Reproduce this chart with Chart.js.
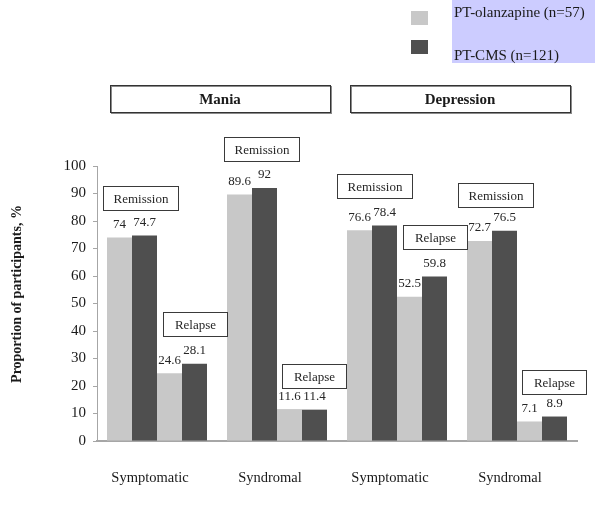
<!DOCTYPE html>
<html><head><meta charset="utf-8">
<script src="https://cdn.jsdelivr.net/npm/chart.js@4"></script>
<style>html,body{margin:0;padding:0;background:#fff}#wrap{width:600px;height:508px;position:relative}</style>
</head><body><div id="wrap"><canvas id="c" width="600" height="508"></canvas></div>
<script>
// ---------- data ----------
const categories = ['Symptomatic', 'Syndromal', 'Symptomatic', 'Syndromal'];
const phaseGroups = ['Mania', 'Depression'];
const seriesNames = ['PT-olanzapine (n=57)', 'PT-CMS (n=121)'];
const outcomeLabels = ['Remission', 'Relapse'];
const remissionOlanzapine = [74, 89.6, 76.6, 72.7];
const remissionCMS = [74.7, 92, 78.4, 76.5];
const relapseOlanzapine = [24.6, 11.6, 52.5, 7.1];
const relapseCMS = [28.1, 11.4, 59.8, 8.9];
const yTicks = [0, 10, 20, 30, 40, 50, 60, 70, 80, 90, 100];
const yTitle = 'Proportion of participants, %';

// ---------- style / layout ----------
const LIGHT = '#c8c8c8';
const DARK = '#4f4f4f';
const SERIF = '"Liberation Serif", "Times New Roman", serif';
const AXIS = '#a6a6a6';
// annotation box horizontal offset from pair centre, and gap above the taller bar
const boxDx = [[8.5, 12.5], [9, 11.5], [2.5, 12.5], [3, 11.5]];
const boxGap = [[26, 28], [27, 21], [27, 28], [24, 23]];
const boxW = [75, 64];
const boxH = 24;

const overlay = {
  id: 'overlay',
  afterDatasetsDraw(chart) {
    const ctx = chart.ctx;
    ctx.save();
    ctx.fillStyle = '#262626';
    ctx.font = '13px ' + SERIF;
    ctx.textAlign = 'center';
    ctx.textBaseline = 'middle';
    chart.data.datasets.forEach((ds, di) => {
      const meta = chart.getDatasetMeta(di);
      meta.data.forEach((bar, i) => {
        ctx.fillText(String(ds.data[i]), bar.x, bar.y - 13);
      });
    });
    ctx.restore();
  },
  afterDraw(chart) {
    const ctx = chart.ctx;
    const xs = chart.scales.x;
    ctx.save();
    // y axis title
    ctx.save();
    ctx.translate(17, 294);
    ctx.rotate(-Math.PI / 2);
    ctx.font = 'bold 14px ' + SERIF;
    ctx.fillStyle = '#1a1a1a';
    ctx.textAlign = 'center';
    ctx.textBaseline = 'middle';
    ctx.fillText(yTitle, 0, 0);
    ctx.restore();
    // annotation boxes
    ctx.font = '13px ' + SERIF;
    ctx.textAlign = 'center';
    ctx.textBaseline = 'middle';
    for (let c = 0; c < categories.length; c++) {
      for (let k = 0; k < 2; k++) {
        const mA = chart.getDatasetMeta(k * 2).data[c];
        const mB = chart.getDatasetMeta(k * 2 + 1).data[c];
        const cx = (mA.x + mA.width / 2 + mB.x - mB.width / 2) / 2 + boxDx[c][k];
        const bottom = Math.min(mA.y, mB.y) - boxGap[c][k];
        const w = boxW[k];
        const x0 = Math.round(cx - w / 2) + 0.5, y0 = Math.round(bottom - boxH) + 0.5;
        ctx.fillStyle = '#fff';
        ctx.fillRect(x0, y0, w, boxH);
        ctx.strokeStyle = '#3a3a3a';
        ctx.lineWidth = 1;
        ctx.strokeRect(x0, y0, w, boxH);
        ctx.fillStyle = '#262626';
        ctx.fillText(outcomeLabels[k], x0 + w / 2, y0 + boxH / 2 + 1);
      }
    }
    // phase header boxes
    const catW = xs.getPixelForValue(1) - xs.getPixelForValue(0);
    ctx.font = 'bold 15px ' + SERIF;
    phaseGroups.forEach((g, gi) => {
      const left = xs.getPixelForValue(gi * 2) - catW / 2 + 13;
      const right = xs.getPixelForValue(gi * 2 + 1) + catW / 2 - 7;
      const y0 = 85.5, h = 27;
      ctx.strokeStyle = '#8a8a8a';
      ctx.strokeRect(Math.round(left) + 1.5, y0 + 1, Math.round(right - left), h);
      ctx.strokeStyle = '#333';
      ctx.strokeRect(Math.round(left) + 0.5, y0, Math.round(right - left), h);
      ctx.fillStyle = '#1a1a1a';
      ctx.fillText(g, (left + right) / 2, y0 + h / 2 + 1);
    });
    // legend
    ctx.fillStyle = '#ccccff';
    ctx.fillRect(452, 0, 143, 63);
    ctx.fillStyle = LIGHT;
    ctx.fillRect(411, 11, 17, 14);
    ctx.fillStyle = DARK;
    ctx.fillRect(411, 40, 17, 14);
    ctx.fillStyle = '#1a1a1a';
    ctx.font = '15px ' + SERIF;
    ctx.textAlign = 'left';
    ctx.textBaseline = 'alphabetic';
    ctx.fillText(seriesNames[0], 454, 17);
    ctx.fillText(seriesNames[1], 454, 60);
    ctx.restore();
  }
};

new Chart(document.getElementById('c'), {
  type: 'bar',
  data: {
    labels: categories,
    datasets: [
      { label: seriesNames[0] + ' ' + outcomeLabels[0], data: remissionOlanzapine, backgroundColor: LIGHT },
      { label: seriesNames[1] + ' ' + outcomeLabels[0], data: remissionCMS, backgroundColor: DARK },
      { label: seriesNames[0] + ' ' + outcomeLabels[1], data: relapseOlanzapine, backgroundColor: LIGHT },
      { label: seriesNames[1] + ' ' + outcomeLabels[1], data: relapseCMS, backgroundColor: DARK }
    ]
  },
  options: {
    responsive: false,
    devicePixelRatio: 1,
    animation: false,
    categoryPercentage: 100 / 120,
    barPercentage: 1,
    layout: { padding: { top: 166, right: 23, left: 0, bottom: 0 } },
    plugins: { legend: { display: false }, tooltip: { enabled: false } },
    scales: {
      x: {
        grid: { display: false },
        border: { color: AXIS, width: 2 },
        ticks: { color: '#1a1a1a', padding: 20, labelOffset: -7, font: { family: SERIF, size: 14.5 } },
        afterFit(s) { s.height = 67; }
      },
      y: {
        min: 0, max: 100,
        afterBuildTicks(s) { s.ticks = yTicks.map(v => ({ value: v })); },
        grid: { drawOnChartArea: false, drawTicks: true, tickLength: 4, color: AXIS },
        border: { color: AXIS, width: 1 },
        ticks: { color: '#1a1a1a', padding: 7, font: { family: SERIF, size: 15 } },
        afterFit(s) { s.width = 97; }
      }
    }
  },
  plugins: [overlay]
});
</script></body></html>
